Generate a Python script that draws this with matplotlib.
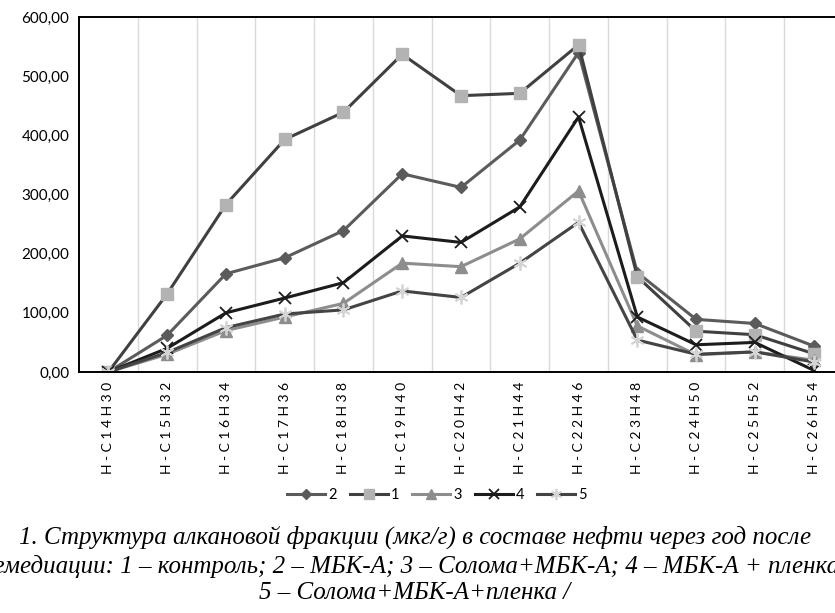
import matplotlib
matplotlib.use("Agg")
import matplotlib.pyplot as plt
import numpy as np

categories = ["H-C14H30", "H-C15H32", "H-C16H34", "H-C17H36", "H-C18H38",
              "H-C19H40", "H-C20H42", "H-C21H44", "H-C22H46", "H-C23H48",
              "H-C24H50", "H-C25H52", "H-C26H54"]

s2 = [0, 62, 166, 193, 239, 335, 312, 392, 540, 168, 89, 82, 44]
s1 = [0, 132, 283, 393, 439, 537, 467, 471, 553, 161, 69, 63, 31]
s3 = [0, 30, 70, 93, 116, 184, 178, 225, 306, 78, 29, 34, 20]
s4 = [0, 40, 100, 125, 151, 230, 219, 279, 431, 93, 46, 50, 3]
s5 = [0, 33, 75, 98, 105, 137, 126, 184, 253, 54, 30, 34, 17]

legend_names = ["2", "1", "3", "4", "5"]

caption = ["1. Структура алкановой фракции (мкг/г) в составе нефти через год после",
           "ремедиации: 1 – контроль; 2 – МБК-А; 3 – Солома+МБК-А; 4 – МБК-А + пленка;",
           "5 – Солома+МБК-А+пленка /"]

plt.rcParams['font.family'] = ['Lato', 'DejaVu Sans']

fig = plt.figure(figsize=(8.35, 6.13), dpi=100)
ax = fig.add_axes([79/835, 1-372/613, (843-79)/835, 355/613])

x = np.arange(len(categories))
styles = [
    (s2, dict(color='#5b5b5b', marker='D', markersize=6, mfc='#5b5b5b', mec='#5b5b5b')),
    (s1, dict(color='#404040', marker='s', markersize=9, mfc='#b3b3b3', mec='#b3b3b3')),
    (s3, dict(color='#8d8d8d', marker='^', markersize=9, mfc='#8d8d8d', mec='#8d8d8d')),
    (s4, dict(color='#1c1c1c', marker='x', markersize=9, mec='#1c1c1c', mew=1.3)),
    (s5, dict(color='#444444', marker=(6, 2, 0), markersize=10, mec='#d4d4d4', mew=1.3)),
]
for (vals, st), name in zip(styles, legend_names):
    ax.plot(x, vals, lw=2.2, label=name, **st)

ax.set_xlim(-0.5, len(categories) - 0.5)
ax.set_ylim(0, 600)
ax.set_yticks(np.arange(0, 601, 100))
ax.set_yticklabels(["{:.2f}".format(v).replace('.', ',') for v in range(0, 601, 100)],
                   fontsize=11)
ax.set_xticks(x)
ax.set_xticklabels([" ".join(c) for c in categories], rotation=90, fontsize=10)
ax.tick_params(length=0, pad=7)
for xb in np.arange(0.5, len(categories) - 0.5, 1):
    ax.axvline(xb, color='#d9d9d9', lw=1, zorder=0)
for sp in ['left', 'top', 'bottom']:
    ax.spines[sp].set_linewidth(1.4)
    ax.spines[sp].set_color('black')
ax.spines['right'].set_visible(False)

fig.legend(loc='center', bbox_to_anchor=(437/835, 1-495/613), ncol=5, frameon=False,
           fontsize=10.5, handlelength=2.6, columnspacing=0.9, handletextpad=0.2,
           markerscale=0.8)

for i, (line, yy) in enumerate(zip(caption, [537, 566, 593])):
    fig.text(415/835, 1-yy/613, line, ha='center', va='center',
             fontsize=18, style='italic', family='Liberation Serif')

fig.savefig("out.png", dpi=100)
